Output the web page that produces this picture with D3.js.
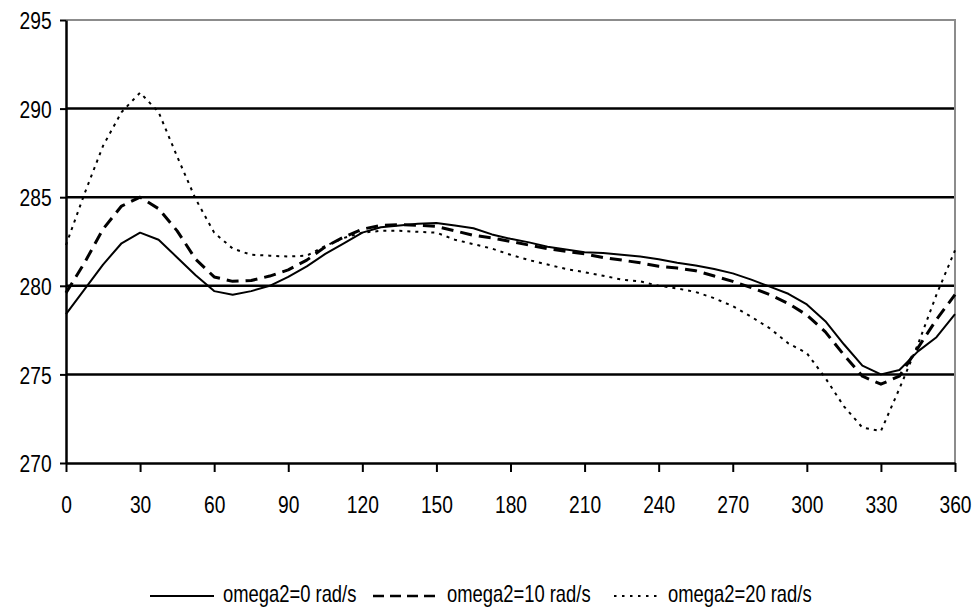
<!DOCTYPE html>
<html><head><meta charset="utf-8">
<script src="https://cdn.jsdelivr.net/npm/d3@7"></script>
<style>body{margin:0;background:#fff}svg{display:block}text{font-family:"Liberation Sans",Arial,sans-serif;fill:#000}</style>
</head><body><svg id="c" width="978" height="610"></svg>
<script>
const angles = d3.range(0, 361, 7.5);
const omega0 = [278.4,279.8,281.2,282.4,283.0,282.6,281.6,280.6,279.7,279.5,279.7,280.0,280.5,281.1,281.8,282.4,283.0,283.3,283.4,283.5,283.55,283.4,283.25,282.9,282.65,282.45,282.2,282.05,281.9,281.85,281.75,281.65,281.5,281.3,281.15,280.95,280.7,280.35,279.95,279.55,278.95,278.0,276.7,275.5,275.0,275.25,276.3,277.1,278.4];
const omega10 = [279.6,281.3,283.2,284.5,285.0,284.35,283.1,281.5,280.5,280.25,280.3,280.55,280.9,281.45,282.2,282.75,283.2,283.4,283.45,283.42,283.35,283.1,282.85,282.7,282.5,282.3,282.1,281.95,281.8,281.6,281.45,281.3,281.1,281.0,280.85,280.55,280.25,279.9,279.5,279.0,278.35,277.4,276.1,274.9,274.45,274.9,276.5,278.1,279.5];
const omega20 = [282.3,285.2,287.9,289.8,290.9,289.8,287.3,284.9,283.0,282.1,281.75,281.7,281.65,281.7,282.25,282.7,283.0,283.1,283.1,283.05,283.0,282.6,282.35,282.1,281.75,281.45,281.2,280.95,280.77,280.57,280.35,280.25,280.0,279.85,279.65,279.3,278.85,278.25,277.6,276.75,276.2,274.8,273.2,272.0,271.8,274.2,276.7,279.5,282.0];
const seriesNames = ["omega2=0 rad/s","omega2=10 rad/s","omega2=20 rad/s"];
const xTicks = d3.range(0, 361, 30);
const yTicks = [270,275,280,285,290,295];

const svg = d3.select("#c");
const x = d3.scaleLinear().domain([0,360]).range([66,955]);
const y = d3.scaleLinear().domain([270,295]).range([463,20]);

svg.append("g").selectAll("line").data([275,280,285,290]).join("line")
  .attr("x1",x(0)).attr("x2",x(360)).attr("y1",d=>y(d)).attr("y2",d=>y(d))
  .attr("stroke","#000").attr("stroke-width",2.5);
svg.append("path").attr("d",`M${x(0)},${y(295)}H${x(360)}V${y(270)}`)
  .attr("fill","none").attr("stroke","#8c8c8c").attr("stroke-width",2);

const ax = svg.append("g").attr("transform",`translate(0,${y(270)})`)
  .call(d3.axisBottom(x).tickValues(xTicks).tickSize(9).tickPadding(24).tickSizeOuter(0));
const ay = svg.append("g").attr("transform",`translate(${x(0)},0)`)
  .call(d3.axisLeft(y).tickValues(yTicks).tickSize(6).tickPadding(12).tickSizeOuter(0));
[ax,ay].forEach(a=>{
  a.select(".domain").attr("stroke","#000").attr("stroke-width",2.5);
  a.selectAll(".tick line").attr("stroke","#000").attr("stroke-width",2);
  a.selectAll("text").attr("font-size",24).attr("font-family",'"Liberation Sans",Arial,sans-serif').attr("fill","#000");
});
ax.selectAll("text").attr("transform","scale(0.8,1)");
ay.selectAll("text").attr("transform","scale(0.8,1)").attr("dy","0.36em");

const styles = [
  {w:2, dash:null},
  {w:3, dash:"12,7"},
  {w:2, dash:"3,5"}
];
const line = d3.line().x((d,i)=>x(angles[i])).y(d=>y(d));
[omega0,omega10,omega20].forEach((s,k)=>{
  svg.append("path").datum(s).attr("d",line).attr("fill","none")
    .attr("stroke","#000").attr("stroke-width",styles[k].w)
    .attr("stroke-dasharray",styles[k].dash).attr("stroke-linejoin","round");
});

const lg = [{x1:150,x2:214,tx:223},{x1:373,x2:439,tx:447},{x1:614,x2:662,tx:668}];
lg.forEach((p,k)=>{
  svg.append("line").attr("x1",p.x1).attr("x2",p.x2).attr("y1",596).attr("y2",596)
    .attr("stroke","#000").attr("stroke-width",k==1?2.5:2).attr("stroke-dasharray",k==0?null:(k==1?"11,6":"2.5,5.5"));
  svg.append("text").attr("transform",`translate(${p.tx},602) scale(0.8,1)`).attr("font-size",23).text(seriesNames[k]);
});
</script></body></html>
